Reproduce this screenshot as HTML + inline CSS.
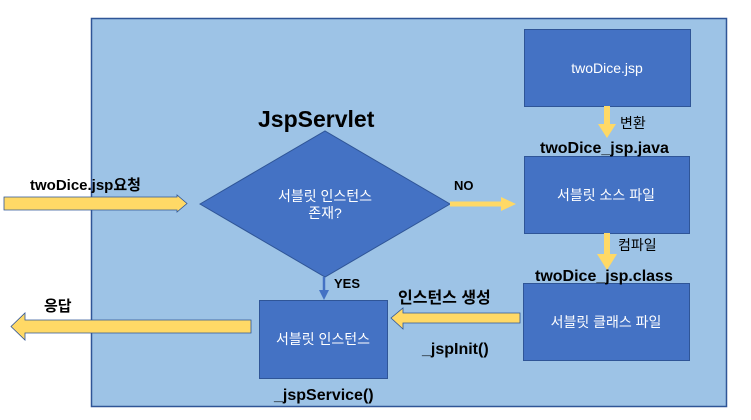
<!DOCTYPE html>
<html><head><meta charset="utf-8"><style>
body{margin:0;width:751px;height:415px;background:#fff;overflow:hidden}
svg text{font-family:"Liberation Sans","Noto Sans CJK KR",sans-serif}
</style></head><body>
<svg width="751" height="415" viewBox="0 0 751 415" xmlns="http://www.w3.org/2000/svg">
<rect x="91.5" y="18.5" width="635" height="388" fill="#9dc3e6" stroke="#2f5597" stroke-width="1.5"/>
<g fill="#4472c4" stroke="#2f5597" stroke-width="1">
<rect x="524.5" y="29.5" width="166" height="77"/>
<rect x="524.5" y="156.5" width="165" height="77"/>
<rect x="523.5" y="283.5" width="166" height="77"/>
<rect x="259.5" y="300.5" width="128" height="78"/>
<polygon points="200,204 325,131 450,204 325,277"/>
</g>
<!-- yellow arrows -->
<g fill="#ffd966" stroke="#2f5597" stroke-width="0.8">
<polygon points="4,197 177,197 177,195 187,203.5 177,212 177,210 4,210"/>
<polygon points="251,320 25,320 25,313 11,326.5 25,340 25,333 251,333"/>
<polygon points="520,313 403,313 403,308 391,318 403,329 403,323 520,323"/>
</g>
<g fill="#ffd966">
<rect x="604" y="106" width="6" height="20"/><polygon points="598,124 616,124 607,138"/>
<rect x="604" y="233" width="6" height="24"/><polygon points="597,254 617,254 607,270"/>
<rect x="450" y="201.5" width="54" height="5"/><polygon points="501,197 516,204 501,211"/>
</g>
<line x1="324" y1="277" x2="324" y2="292" stroke="#4472c4" stroke-width="2.5"/>
<polygon points="319,290 329,290 324,300" fill="#4472c4"/>
<g fill="#fff" font-size="14" text-anchor="middle">
<text x="607" y="73">twoDice.jsp</text>
<text x="606" y="200">서블릿 소스 파일</text>
<text x="606" y="327">서블릿 클래스 파일</text>
<text x="323" y="344">서블릿 인스턴스</text>
<text x="325" y="201">서블릿 인스턴스</text>
<text x="325" y="218">존재?</text>
</g>
<g fill="#000" font-weight="bold">
<text x="258" y="127" font-size="23">JspServlet</text>
<text x="30" y="190" font-size="15">twoDice.jsp요청</text>
<text x="44" y="311" font-size="15">응답</text>
<text x="334" y="288" font-size="13">YES</text>
<text x="454" y="190" font-size="13">NO</text>
<text x="540" y="153" font-size="16">twoDice_jsp.java</text>
<text x="535" y="281" font-size="16">twoDice_jsp.class</text>
<text x="398" y="303" font-size="16">인스턴스 생성</text>
<text x="422" y="354" font-size="16">_jspInit()</text>
<text x="274" y="400" font-size="16">_jspService()</text>
</g>
<g fill="#000" font-size="14">
<text x="620" y="128">변환</text>
<text x="618" y="250">컴파일</text>
</g>
</svg>
</body></html>
